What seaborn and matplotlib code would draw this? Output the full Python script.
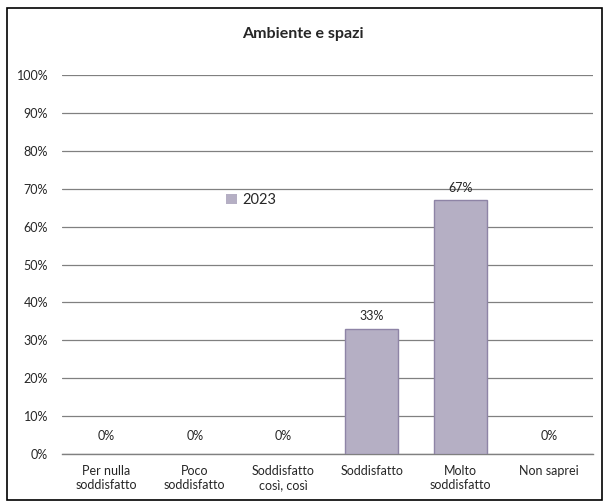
import matplotlib
matplotlib.use("Agg")
import matplotlib.pyplot as plt
import seaborn as sns
import pandas as pd
from matplotlib.patches import Rectangle

categories = ["Per nulla\nsoddisfatto", "Poco\nsoddisfatto", "Soddisfatto\ncosì, così",
              "Soddisfatto", "Molto\nsoddisfatto", "Non saprei"]
values = [0, 0, 0, 33, 67, 0]
series = ["2023"] * 6
yticks = [0, 10, 20, 30, 40, 50, 60, 70, 80, 90, 100]

df = pd.DataFrame({"cat": categories, "val": values, "year": series})

sns.set_style("white")
plt.rcParams["font.family"] = ["Lato", "DejaVu Sans"]

fig = plt.figure(figsize=(6.05, 5.01), dpi=100)
ax = fig.add_axes([62/605, 1-454/501, 531/605, 379/501])

bar_color = "#b4abc8"
sns.barplot(data=df, x="cat", y="val", hue="year", palette=[bar_color],
            width=0.6, edgecolor="#8e84a6", linewidth=1.0, ax=ax, zorder=3)
for p in ax.patches:
    if p.get_height() == 0:
        p.set_linewidth(0)

ax.set_ylim(0, 100)
ax.set_yticks(yticks)
ax.set_yticklabels([f"{t}%" for t in yticks], fontsize=9)
ax.yaxis.grid(True, color="#808080", linewidth=0.9, zorder=0)
ax.set_axisbelow(True)
ax.set_xlabel("")
ax.set_ylabel("")
ax.tick_params(axis="x", labelsize=9, length=0, pad=8)
ax.tick_params(axis="y", length=0, pad=10)
for s in ["top", "right"]:
    ax.spines[s].set_visible(False)
ax.spines["left"].set_visible(False)
ax.spines["bottom"].set_color("#808080")
ax.spines["bottom"].set_linewidth(1.0)

for i, v in enumerate(values):
    off = 9 if v > 0 else 13
    ax.annotate(f"{v}%", (i, v), xytext=(0, off), textcoords="offset points",
                ha="center", va="center", fontsize=9)

leg = ax.legend(loc="center left", bbox_to_anchor=(0.285, 0.67), frameon=False,
                fontsize=10.5, handlelength=0.7, handleheight=0.7, handletextpad=0.4)

fig.text(0.5, 1-34/501, "Ambiente e spazi", ha="center", va="center",
         fontsize=11.5, fontweight="bold")

fig.patches.append(Rectangle((7/605, 1/501), 595/605, 492/501, transform=fig.transFigure,
                             fill=False, edgecolor="black", linewidth=1.2))

fig.savefig("out.png", dpi=100)
